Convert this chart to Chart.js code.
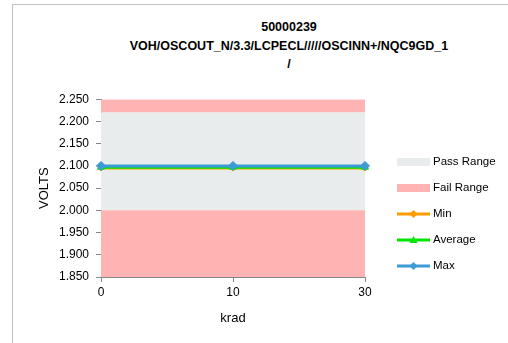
<!DOCTYPE html>
<html>
<head>
<meta charset="utf-8">
<script src="https://cdn.jsdelivr.net/npm/chart.js@4/dist/chart.umd.min.js"></script>
<style>
  html, body { margin: 0; padding: 0; background: #fff; overflow: hidden; }
  body { width: 508px; height: 343px; position: relative; font-family: "Liberation Sans", Arial, sans-serif; }
  #frame { position: absolute; left: 12px; top: 4px; width: 600px; height: 400px; border-left: 1px solid #c3c3c3; border-top: 1px solid #c3c3c3; }
  #title { position: absolute; left: 89px; width: 400px; top: 18px; text-align: center; font-weight: bold; font-size: 12.5px; line-height: 18.5px; color: #000; white-space: pre; }
  #chartBox { position: absolute; left: 13px; top: 85px; width: 495px; height: 258px; }
  #legend { position: absolute; left: 397px; top: 153px; font-size: 11.5px; color: #000; }
  .item { position: relative; height: 26px; width: 110px; }
  .item canvas { position: absolute; left: 0; top: 0; }
  .item span { position: absolute; left: 36px; top: 2px; white-space: nowrap; }
</style>
</head>
<body>
<div id="frame"></div>
<div id="title"></div>
<div id="chartBox"><canvas id="radChart"></canvas></div>
<div id="legend"></div>
<script>
// chart text
const titleLines = ['50000239', 'VOH/OSCOUT_N/3.3/LCPECL/////OSCINN+/NQC9GD_1', '/'];
const xTitle = 'krad';
const yTitle = 'VOLTS';

// data
const doses = ['0', '10', '30'];
const minValues = [2.095, 2.095, 2.095];
const avgValues = [2.097, 2.097, 2.097];
const maxValues = [2.100, 2.100, 2.100];
const failLow = [2.000, 2.000, 2.000];   // fail below this
const passHigh = [2.220, 2.220, 2.220];  // pass up to this
const axisTop = [2.250, 2.250, 2.250];   // fail above pass up to axis top
const yMin = 1.85, yMax = 2.25, yStep = 0.05;

const passColor = '#e8ecec';
const failColor = '#ffb3b3';
const minColor = '#ff9a00';
const avgColor = '#00e600';
const maxColor = '#3c9ad6';

document.getElementById('title').textContent = titleLines.join('\n');

const band = (label, data, color, fill) => ({
    label: label, data: data, fill: fill, backgroundColor: color,
    borderWidth: 0, pointRadius: 0, order: 10
});
const series = (label, data, color, style, radius, order) => ({
    label: label, data: data, borderColor: color, backgroundColor: color,
    borderWidth: 3, pointStyle: style, pointRadius: radius, pointBorderWidth: 1,
    fill: false, order: order
});

const ctx = document.getElementById('radChart').getContext('2d');
new Chart(ctx, {
    type: 'line',
    data: {
        labels: doses,
        datasets: [
            band('Fail Range', failLow, failColor, 'start'),
            band('Pass Range', passHigh, passColor, '-1'),
            band('Fail Range', axisTop, failColor, '-1'),
            series('Min', minValues, minColor, 'rectRot', 3, 2),
            series('Average', avgValues, avgColor, 'triangle', 4, 1),
            series('Max', maxValues, maxColor, 'rectRot', 4.5, 0)
        ]
    },
    options: {
        responsive: true,
        maintainAspectRatio: false,
        animation: false,
        layout: { padding: { left: 20, top: 14, right: 143, bottom: 13 } },
        plugins: { legend: { display: false }, tooltip: { enabled: false } },
        scales: {
            x: {
                offset: false,
                grid: { drawOnChartArea: false, color: '#868686', tickLength: 5 },
                border: { color: '#868686' },
                ticks: { color: '#000', font: { size: 12, family: 'Liberation Sans' }, padding: 3 },
                title: { display: true, text: xTitle, color: '#000', font: { size: 13, family: 'Liberation Sans' }, padding: { top: 8 } }
            },
            y: {
                min: yMin,
                max: yMax,
                grid: { drawOnChartArea: false, color: '#868686', tickLength: 5 },
                border: { color: '#868686' },
                ticks: { stepSize: yStep, color: '#000', font: { size: 12, family: 'Liberation Sans' }, padding: 7,
                         callback: v => v.toFixed(3) },
                title: { display: true, text: yTitle, color: '#000', font: { size: 13, family: 'Liberation Sans' }, padding: { bottom: 4 } },
                afterFit: scale => { scale.width = 68; }
            }
        }
    }
});

// legend built from the same colours and labels
const legendItems = [
    { label: 'Pass Range', color: passColor, kind: 'box' },
    { label: 'Fail Range', color: failColor, kind: 'box' },
    { label: 'Min', color: minColor, kind: 'rectRot' },
    { label: 'Average', color: avgColor, kind: 'triangle' },
    { label: 'Max', color: maxColor, kind: 'rectRot' }
];
const legend = document.getElementById('legend');
legendItems.forEach(it => {
    const row = document.createElement('div');
    row.className = 'item';
    const c = document.createElement('canvas');
    c.width = 34; c.height = 18;
    const g = c.getContext('2d');
    g.fillStyle = it.color;
    g.strokeStyle = it.color;
    if (it.kind === 'box') {
        g.fillRect(0, 5, 33, 8);
    } else {
        g.lineWidth = 3;
        g.beginPath(); g.moveTo(0, 9); g.lineTo(33, 9); g.stroke();
        g.beginPath();
        if (it.kind === 'triangle') {
            g.moveTo(16.5, 5); g.lineTo(20.5, 12); g.lineTo(12.5, 12);
        } else {
            g.moveTo(16.5, 5); g.lineTo(20.5, 9); g.lineTo(16.5, 13); g.lineTo(12.5, 9);
        }
        g.closePath(); g.fill();
    }
    row.appendChild(c);
    const s = document.createElement('span');
    s.textContent = it.label;
    row.appendChild(s);
    legend.appendChild(row);
});
</script>
</body>
</html>
